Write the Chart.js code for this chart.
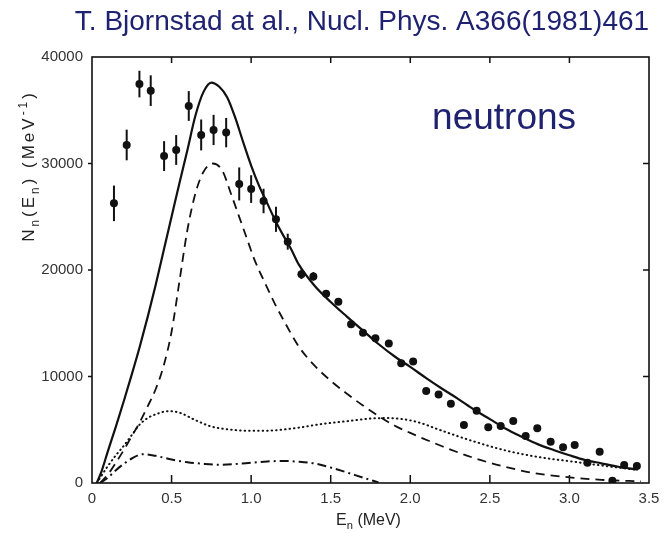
<!DOCTYPE html>
<html>
<head>
<meta charset="utf-8">
<script src="https://cdn.jsdelivr.net/npm/chart.js@4/dist/chart.umd.min.js"></script>
<style>
  html, body { margin: 0; padding: 0; background: #fff; }
  canvas { display: block; }
</style>
</head>
<body>
<canvas id="neutronChart" width="667" height="533"></canvas>
<script>
// measured neutron spectrum (points with error bars)
const puntosE = [0.138, 0.218, 0.298, 0.369, 0.453, 0.529, 0.608, 0.686, 0.764, 0.843,
  0.925, 1.0, 1.078, 1.156, 1.23, 1.316, 1.391, 1.471, 1.548, 1.628, 1.703, 1.781, 1.865,
  1.943, 2.018, 2.1, 2.178, 2.255, 2.337, 2.417, 2.49, 2.568, 2.647, 2.725, 2.798, 2.882,
  2.96, 3.033, 3.113, 3.19, 3.27, 3.344, 3.424];
const puntosN = [26260, 31740, 37460, 36840, 30700, 31270, 35400, 32680, 33150, 32900,
  28080, 27600, 26480, 24760, 22660, 19600, 19400, 17780, 17030, 14900, 14110, 13580, 13110,
  11240, 11400, 8640, 8300, 7450, 5450, 6790, 5230, 5350, 5820, 4410, 5130, 3880,
  3350, 3570, 1910, 2940, 220, 1690, 1600];
const puntosErr = [1670, 1440, 1250, 1440, 1400, 1400, 1400, 1450, 1420, 1380,
  1550, 1300, 1150, 1180, 750, 450, 400, 300, 300, 0, 0, 0, 0,
  0, 0, 0, 0, 0, 0, 0, 0, 0, 0, 0, 0, 0,
  0, 0, 0, 0, 0, 0, 0];

// total fit (solid)
const totalE = [0.03, 0.06, 0.1, 0.15, 0.2, 0.25, 0.3, 0.35, 0.4, 0.45, 0.5, 0.55, 0.6, 0.65,
  0.7, 0.75, 0.8, 0.85, 0.9, 0.95, 1.0, 1.05, 1.1, 1.15, 1.2, 1.25, 1.3, 1.4, 1.5, 1.6, 1.7,
  1.8, 1.9, 2.0, 2.1, 2.2, 2.3, 2.4, 2.5, 2.6, 2.7, 2.8, 2.9, 3.0, 3.1, 3.2, 3.3, 3.43];
const totalN = [0, 1100, 3000, 5300, 7700, 10200, 12800, 15600, 18600, 21800, 25000, 28200, 31300, 34500,
  36700, 37600, 37200, 36200, 34300, 32000, 29800, 27900, 26300, 24700, 23300, 22000, 20500, 18500, 17000, 15650, 14350,
  13050, 11900, 10900, 9850, 8850, 7900, 6900, 6000, 5100, 4350, 3650, 3100, 2600, 2150, 1850, 1550, 1250];

// dashed component
const dashE = [0.05, 0.1, 0.15, 0.2, 0.25, 0.3, 0.35, 0.4, 0.45, 0.5, 0.55, 0.6, 0.65, 0.7, 0.76,
  0.82, 0.87, 0.92, 0.97, 1.02, 1.08, 1.15, 1.2, 1.3, 1.4, 1.5, 1.6, 1.7, 1.8, 1.9, 2.0,
  2.2, 2.4, 2.6, 2.8, 3.0, 3.2, 3.45];
const dashN = [0, 800, 1900, 3100, 4400, 5700, 7200, 8800, 11000, 14200, 19000, 23800, 27200, 29200, 30000,
  29300, 27300, 25200, 23100, 21000, 19000, 16800, 15400, 12800, 11000, 9600, 8400, 7300, 6300, 5400, 4700,
  3450, 2350, 1500, 880, 530, 300, 150];

// dotted component
const dotE = [0.03, 0.1, 0.15, 0.2, 0.25, 0.3, 0.35, 0.4, 0.48, 0.55, 0.65, 0.75, 0.85, 1.0,
  1.15, 1.3, 1.45, 1.6, 1.75, 1.85, 1.95, 2.05, 2.2, 2.4, 2.6, 2.8, 3.0, 3.2, 3.43];
const dotN = [0, 1600, 2600, 3500, 4500, 5500, 6100, 6450, 6750, 6600, 5900, 5300, 5050, 4900,
  4950, 5200, 5550, 5800, 6050, 6100, 6000, 5700, 4900, 3900, 3050, 2450, 2050, 1650, 1220];

// dash-dot component
const dashDotE = [0.05, 0.1, 0.15, 0.2, 0.25, 0.32, 0.4, 0.5, 0.6, 0.7, 0.8, 0.9, 1.0, 1.1,
  1.2, 1.3, 1.4, 1.5, 1.6, 1.7, 1.8];
const dashDotN = [0, 500, 1200, 1800, 2300, 2700, 2550, 2200, 1950, 1800, 1720, 1780, 1900, 2020,
  2070, 2000, 1830, 1450, 1000, 520, 50];

const xTicks = [0, 0.5, 1.0, 1.5, 2.0, 2.5, 3.0, 3.5];
const yTicks = [0, 10000, 20000, 30000, 40000];

const tinta = '#111';
const azul = '#1f2270';

function pares(es, ns) {
    return es.map((e, i) => ({ x: e, y: ns[i] }));
}

function curva(es, ns, dash, ancho, cap) {
    return {
        type: 'scatter',
        data: pares(es, ns),
        showLine: true,
        pointRadius: 0,
        borderColor: tinta,
        borderWidth: ancho,
        borderDash: dash,
        borderCapStyle: cap || 'butt',
        cubicInterpolationMode: 'monotone',
        fill: false
    };
}

// text made of pieces (normal / subscript / superscript), centred on x
function textoPartes(ctx, partes, x, y, tam, espacio) {
    ctx.letterSpacing = (espacio || 0) + 'px';
    let total = 0;
    partes.forEach(p => {
        ctx.font = (p[1] ? tam * 0.7 : tam) + 'px "Liberation Sans", Arial, sans-serif';
        total += ctx.measureText(p[0]).width;
    });
    let cx = x - total / 2;
    partes.forEach(p => {
        const f = p[1] ? tam * 0.7 : tam;
        ctx.font = f + 'px "Liberation Sans", Arial, sans-serif';
        let dy = 0;
        if (p[1] === 'sub') dy = tam * 0.28;
        if (p[1] === 'sup') dy = -tam * 0.4;
        ctx.fillText(p[0], cx, y + dy);
        cx += ctx.measureText(p[0]).width;
    });
    ctx.letterSpacing = '0px';
}

const marco = {
    id: 'marco',
    beforeDatasetsDraw(chart) {
        const ctx = chart.ctx;
        const xs = chart.scales.x, ys = chart.scales.y;
        ctx.save();
        ctx.strokeStyle = tinta;
        ctx.lineWidth = 2;
        puntosE.forEach((e, i) => {
            if (!puntosErr[i]) return;
            const px = xs.getPixelForValue(e);
            ctx.beginPath();
            ctx.moveTo(px, ys.getPixelForValue(puntosN[i] - puntosErr[i]));
            ctx.lineTo(px, ys.getPixelForValue(puntosN[i] + puntosErr[i]));
            ctx.stroke();
        });
        ctx.restore();
    },
    afterDraw(chart) {
        const ctx = chart.ctx;
        const a = chart.chartArea;
        const xs = chart.scales.x, ys = chart.scales.y;
        ctx.save();
        ctx.strokeStyle = tinta;
        ctx.lineWidth = 1.6;
        ctx.strokeRect(a.left, a.top, a.right - a.left, a.bottom - a.top);

        ctx.lineWidth = 1.5;
        ctx.beginPath();
        xTicks.forEach(v => {
            const px = xs.getPixelForValue(v);
            if (v > 0 && v < 3.5) {
                ctx.moveTo(px, a.bottom); ctx.lineTo(px, a.bottom - 8);
                ctx.moveTo(px, a.top); ctx.lineTo(px, a.top + 6);
            }
        });
        yTicks.forEach(v => {
            const py = ys.getPixelForValue(v);
            if (v > 0 && v < 40000) {
                ctx.moveTo(a.left - 4, py); ctx.lineTo(a.left, py);
                ctx.moveTo(a.right, py); ctx.lineTo(a.right - 6, py);
            }
        });
        ctx.stroke();

        // axis titles
        ctx.fillStyle = '#222';
        ctx.textBaseline = 'alphabetic';
        textoPartes(ctx, [['E'], ['n', 'sub'], [' (MeV)']], (a.left + a.right) / 2 - 2, 525, 16, 0);

        ctx.save();
        ctx.translate(34, 166);
        ctx.rotate(-Math.PI / 2);
        textoPartes(ctx, [['N'], ['n', 'sub'], ['(E'], ['n', 'sub'], [') (MeV'], ['-1', 'sup'], [')']], 0, 0, 17, 3);
        ctx.restore();

        // header and label
        ctx.fillStyle = azul;
        ctx.textAlign = 'center';
        ctx.font = '28px "Liberation Sans", Arial, sans-serif';
        ctx.fillText('T. Bjornstad at al., Nucl. Phys. A366(1981)461', 362, 30);
        ctx.textAlign = 'left';
        ctx.font = '37px "Liberation Sans", Arial, sans-serif';
        ctx.fillText('neutrons', xs.getPixelForValue(2.137), ys.getPixelForValue(33240));
        ctx.restore();
    }
};

const fuenteTicks = { family: '"Liberation Sans", Arial, sans-serif', size: 15 };

new Chart(document.getElementById('neutronChart').getContext('2d'), {
    type: 'scatter',
    data: {
        datasets: [
            curva(totalE, totalN, [], 2.2),
            curva(dashE, dashN, [9, 6], 1.8),
            curva(dotE, dotN, [0.5, 4], 2, 'round'),
            curva(dashDotE, dashDotN, [9, 4, 2, 4], 2),
            {
                type: 'scatter',
                data: pares(puntosE, puntosN),
                pointRadius: 4,
                pointBackgroundColor: tinta,
                pointBorderWidth: 0
            }
        ]
    },
    options: {
        responsive: false,
        animation: false,
        devicePixelRatio: 1,
        layout: { padding: { top: 57, right: 18, left: 0, bottom: 0 } },
        plugins: {
            legend: { display: false },
            tooltip: { enabled: false }
        },
        scales: {
            x: {
                type: 'linear',
                min: 0,
                max: 3.5,
                afterFit: s => { s.height = 50; },
                afterBuildTicks: s => { s.ticks = xTicks.map(v => ({ value: v })); },
                grid: { display: true, drawOnChartArea: false, drawTicks: false },
                border: { display: false },
                ticks: {
                    font: fuenteTicks,
                    color: '#333',
                    padding: 7,
                    maxRotation: 0,
                    callback: v => v === 0 ? '0' : v.toFixed(1)
                }
            },
            y: {
                type: 'linear',
                min: 0,
                max: 40000,
                afterFit: s => { s.width = 92; },
                afterBuildTicks: s => { s.ticks = yTicks.map(v => ({ value: v })); },
                grid: { display: true, drawOnChartArea: false, drawTicks: false },
                border: { display: false },
                ticks: {
                    font: fuenteTicks,
                    color: '#333',
                    padding: 9,
                    callback: v => String(v)
                }
            }
        }
    },
    plugins: [marco]
});
</script>
</body>
</html>
